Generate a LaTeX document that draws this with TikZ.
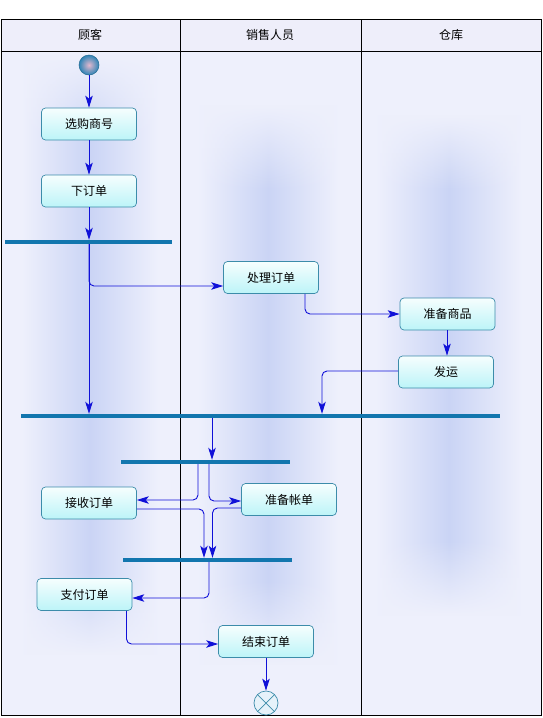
\documentclass[tikz,border=0pt]{standalone}
\usepackage{fontspec}
\newfontfamily\cjk{Noto Sans CJK SC}
\usetikzlibrary{arrows.meta,fadings,calc}
\definecolor{hdr}{HTML}{EEEEFA}
\definecolor{base}{HTML}{EEF0FC}
\definecolor{band}{HTML}{CAD4F5}
\definecolor{barc}{HTML}{1276AE}
\definecolor{flowc}{HTML}{1010D8}
\definecolor{boxb}{HTML}{3C8CAA}
\definecolor{boxt}{HTML}{F6FEFE}
\definecolor{boxbot}{HTML}{BCF4F8}
\definecolor{startin}{HTML}{E2B8CE}
\definecolor{startout}{HTML}{2E84B6}
\definecolor{endfill}{HTML}{E6F2FA}
\tikzfading[name=fadetop, top color=transparent!100, bottom color=transparent!0]
\tikzfading[name=fadebot, top color=transparent!0, bottom color=transparent!100]
\newcommand\myband[6]{%
  \shade[lanebg, path fading=fadetop] (#1,#3) rectangle (#2,#4);
  \shade[lanebg] (#1,#4) rectangle (#2,#5);
  \shade[lanebg, path fading=fadebot] (#1,#5) rectangle (#2,#6);}
\begin{document}
\begin{tikzpicture}[x=1pt,y=-1pt,
  txt/.style={font=\cjk\fontsize{12}{14}\selectfont},
  act/.style={txt, draw=boxb, line width=0.7pt, rounded corners=4pt, top color=boxt, bottom color=boxbot, minimum width=95pt, minimum height=32pt, inner sep=0pt},
  bar/.style={fill=barc, minimum height=4pt, inner sep=0pt},
  flow/.style={draw=flowc, line width=0.9pt, rounded corners=5pt, -{Stealth[length=12pt,width=7.5pt,inset=3pt]}},
  lanebg/.style={left color=base, right color=base, middle color=band},
  startn/.style={circle, minimum size=20pt, inner sep=0pt, draw=startout!80!black, line width=0.5pt, inner color=startin, outer color=startout},
  endn/.style={circle, minimum size=24pt, inner sep=0pt, draw=boxb, line width=0.7pt, fill=endfill}
]
\useasboundingbox (0,0) rectangle (543,718);
\fill[white] (0,0) rectangle (543,718);
% swimlane background
\fill[hdr] (1,19) rectangle (541,51);
\fill[base] (1,51) rectangle (541,715);
\myband{22}{158}{55}{140}{570}{655}
\myband{198}{338}{105}{190}{580}{665}
\myband{376}{522}{115}{190}{540}{615}
% swimlane lines
\draw[line width=0.8pt] (1,19) rectangle (541,715);
\draw[line width=0.8pt] (1,51) -- (541,51);
\draw[line width=0.8pt] (180,19) -- (180,715);
\draw[line width=0.8pt] (361,19) -- (361,715);
\node[txt] (h1) at (90,35) {顾客};
\node[txt] (h2) at (270,35) {销售人员};
\node[txt] (h3) at (451,35) {仓库};
% nodes
\node[startn] (s) at (89,65) {};
\node[act] (a1) at (89,124) {选购商号};
\node[act] (a2) at (89,191) {下订单};
\node[bar, minimum width=167pt] (b1) at (88.5,242) {};
\node[act] (a3) at (271,277.5) {处理订单};
\node[act] (a4) at (447.5,314) {准备商品};
\node[act] (a5) at (446,372) {发运};
\node[bar, minimum width=479pt] (b2) at (260.5,416) {};
\node[bar, minimum width=169pt] (b3) at (205.5,462) {};
\node[act] (a6) at (89,503) {接收订单};
\node[act] (a7) at (289,499.5) {准备帐单};
\node[bar, minimum width=169pt] (b4) at (207.5,560) {};
\node[act] (a8) at (84.5,594.5) {支付订单};
\node[act] (a9) at (266,641.5) {结束订单};
\node[endn] (e) at (266,703) {};
\draw[boxb, line width=0.7pt] (e.north east) -- (e.south west) (e.north west) -- (e.south east);
% connectors
\draw[flow] (s.south) -- (a1.north);
\draw[flow] (a1.south) -- (a2.north);
\draw[flow] (a2.south) -- (a2.south |- b1.north);
\draw[flow] (a2.south |- b1.south) |- (a3.west |- 0,286);
\draw[flow] (a2.south |- b1.south) -- (a2.south |- b2.north);
\draw[flow] (a3.south -| 305,0) |- (a4.west);
\draw[flow] (a4.south -| 447,0) -- (a5.north -| 447,0);
\draw[flow] (a5.west |- 0,371) -| (b2.north -| 322,0);
\draw[flow] (b2.south -| 212,0) -- (b3.north -| 212,0);
\draw[flow] (b3.south -| 198,0) |- (a6.east |- 0,500);
\draw[flow] (b3.south -| 209,0) |- (a7.west |- 0,501);
\draw[flow] (a6.east |- 0,509) -| (b4.north -| 204,0);
\draw[flow] (a7.west |- 0,508) -| (b4.north -| 212.5,0);
\draw[flow] (b4.south -| 209,0) |- (a8.east |- 0,598);
\draw[flow] (a8.south -| 126.5,0) |- (a9.west |- 0,644);
\draw[flow] (a9.south) -- (e.north);
\end{tikzpicture}
\end{document}
